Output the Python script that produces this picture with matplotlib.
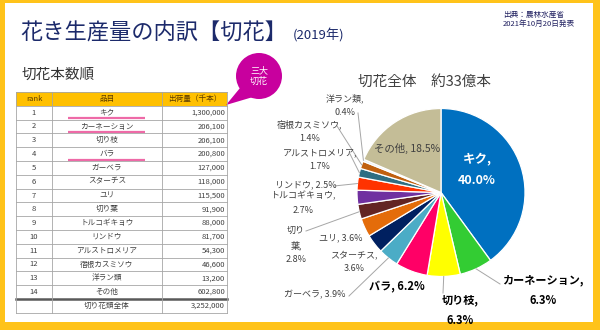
import matplotlib
matplotlib.use("Agg")
import matplotlib.pyplot as plt
import numpy as np
from matplotlib.patches import Rectangle, Circle, Polygon

plt.rcParams['font.family'] = ['Noto Sans CJK JP', 'DejaVu Sans']

# ── data ──────────────────────────────────────────────────────────────────────
ranks = list(range(1, 15))
items = ["キク", "カーネーション", "切り枝", "バラ", "ガーベラ", "スターチス", "ユリ",
         "切り葉", "トルコギキョウ", "リンドウ", "アルストロメリア", "宿根カスミソウ",
         "洋ラン類", "その他"]
shipments = [1300000, 206100, 206100, 200800, 127000, 118000, 115500,
             91900, 88000, 81700, 54300, 46600, 13200, 602800]
total_name = "切り花類全体"
total_value = 3252000
big_three = ["キク", "カーネーション", "バラ"]
headers = ["rank", "品目", "出荷量（千本）"]

colors = ["#0070C0", "#33CC33", "#FFFF00", "#FF0066", "#4BACC6", "#002060", "#E46C0A",
          "#632523", "#7030A0", "#FF3300", "#2E6E82", "#C0600F", "#DDEBF7", "#C4BD97"]

BORDER = "#FFC31A"
NAVY = "#1C2A6B"
GRAY = "#404040"
LINE = "#A6A6A6"

fig = plt.figure(figsize=(6, 3.3), dpi=100)
fig.patch.set_facecolor("white")

# pixel-space overlay axes
ax = fig.add_axes([0, 0, 1, 1])
ax.set_xlim(0, 600)
ax.set_ylim(330, 0)
ax.axis("off")
ax.set_zorder(2)
ax.patch.set_visible(False)

# frame
for r in [(0, 0, 5, 330), (0, 0, 600, 3), (593, 0, 7, 330), (0, 322, 600, 8)]:
    ax.add_patch(Rectangle((r[0], r[1]), r[2], r[3], color=BORDER, lw=0))

# titles
ax.text(20, 33, "花き生産量の内訳【切花】", fontsize=16, color=NAVY, va="center", ha="left")
ax.text(293, 36, "(2019年)", fontsize=9.5, color=NAVY, va="center", ha="left")
ax.text(503, 19, "出典：農林水産省\n2021年10月20日発表", fontsize=5.5, color="#202060",
        va="center", ha="left", linespacing=1.2)
ax.text(22, 75, "切花本数順", fontsize=10.5, color="#333333", va="center", ha="left")
ax.text(425, 82, "切花全体　約33億本", fontsize=10.5, color=GRAY, va="center", ha="center")

# ── table ─────────────────────────────────────────────────────────────────────
cols = [16, 52, 162, 227]
top, rh = 92, 13.8
ax.add_patch(Rectangle((cols[0], top), cols[-1] - cols[0], rh, color="#FFC000", lw=0))
for j, h in enumerate(headers):
    ax.text((cols[j] + cols[j + 1]) / 2, top + rh / 2, h, fontsize=5.5, color="#5A3A00",
            ha="center", va="center")

rows = [(str(r), n, f"{v:,}") for r, n, v in zip(ranks, items, shipments)]
rows.append(("", total_name, f"{total_value:,}"))
for i, (rk, nm, val) in enumerate(rows):
    y = top + rh * (i + 1) + rh / 2
    ax.text((cols[0] + cols[1]) / 2, y, rk, fontsize=5.5, color=GRAY, ha="center", va="center")
    ax.text((cols[1] + cols[2]) / 2, y, nm, fontsize=5.5, color=GRAY, ha="center", va="center")
    ax.text(cols[3] - 2, y, val, fontsize=5.5, color=GRAY, ha="right", va="center")
    if nm in big_three:
        ax.plot([68, 145], [y + rh / 2 - 1.5] * 2, color="#EE6AA7", lw=1.6, solid_capstyle="butt")

nrows = len(rows) + 1
bottom = top + rh * nrows
for k in range(nrows + 1):
    yy = top + rh * k
    if k == nrows - 1:
        ax.plot([cols[0], cols[-1]], [yy, yy], color="#595959", lw=1.8)
    else:
        ax.plot([cols[0], cols[-1]], [yy, yy], color=LINE, lw=0.6)
for x in cols:
    ax.plot([x, x], [top, bottom], color=LINE, lw=0.6)

# callout bubble
ax.add_patch(Polygon([(240, 88), (226, 105), (253, 97)], color="#C8009E", lw=0))
ax.add_patch(Circle((259, 76), 23, color="#C8009E", lw=0))
ax.text(259, 76, "三大\n切花", fontsize=6.5, color="white", ha="center", va="center",
        linespacing=1.2)

# ── pie ───────────────────────────────────────────────────────────────────────
cx, cy, rad = 441, 192.5, 84
pax = fig.add_axes([(cx - rad) / 600, (330 - cy - rad) / 330, 2 * rad / 600, 2 * rad / 330])
wedges, _ = pax.pie(shipments, colors=colors, startangle=90, counterclock=False,
                    wedgeprops=dict(edgecolor="white", linewidth=0.9))
pax.set_xlim(-1, 1)
pax.set_ylim(-1, 1)

# label layout: (format, x, y, ha, size, weight, colour, leader start)
layout = [
    ("{n},\n{p}", 477, 170, "center", 9, "bold", "white", None),
    ("{n},\n{p}", 543, 290, "center", 8, "bold", "black", (500, 284)),
    ("{n},\n{p}", 460, 310, "center", 8, "bold", "black", (443, 293)),
    ("{n}, {p}", 397, 287, "center", 8, "bold", "black", None),
    ("{n}, {p}", 346, 295, "right", 6.5, "normal", GRAY, (349, 296)),
    ("{n},\n{p}", 354, 262, "center", 6.5, "normal", GRAY, None),
    ("{n}, {p}", 341, 238, "center", 6.5, "normal", GRAY, None),
    ("切り\n葉,\n{p}", 296, 245, "center", 6.5, "normal", GRAY, (306, 231)),
    ("{n},\n{p}", 303, 203, "center", 6.5, "normal", GRAY, None),
    ("{n}, {p}", 306, 185, "center", 6.5, "normal", GRAY, (334, 186)),
    ("{n},\n{p}", 320, 160, "center", 6.5, "normal", GRAY, (350, 154)),
    ("{n},\n{p}", 310, 131, "center", 6.5, "normal", GRAY, (337, 126)),
    ("{n},\n{p}", 345, 105, "center", 6.5, "normal", GRAY, (358, 113)),
    ("{n}, {p}", 407, 148, "center", 7.5, "normal", GRAY, None),
]
for w, name, v, (fmt, x, y, ha, fs, fw, c, lead) in zip(wedges, items, shipments, layout):
    pct = f"{v / total_value * 100:.1f}%"
    ax.text(x, y, fmt.format(n=name, p=pct), fontsize=fs, fontweight=fw, color=c,
            ha=ha, va="center", linespacing=1.7)
    if lead:
        mid = np.deg2rad((w.theta1 + w.theta2) / 2)
        ex, ey = cx + rad * np.cos(mid), cy - rad * np.sin(mid)
        ax.plot([lead[0], ex], [lead[1], ey], color=LINE, lw=0.7)

fig.savefig("out.png", dpi=100, facecolor="white")
